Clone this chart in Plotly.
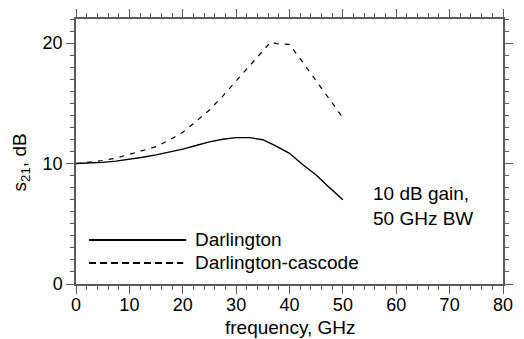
import plotly.graph_objects as go

freq = [0, 2.5, 5, 7.5, 10, 12.5, 15, 17.5, 20, 22.5, 25, 27.5, 30, 32.5, 35, 37.5, 40, 42.5, 45, 47.5, 50]
darlington = [10.0, 10.02, 10.1, 10.2, 10.33, 10.52, 10.72, 10.95, 11.2, 11.5, 11.8, 12.02, 12.15,
              12.15, 11.98, 11.45, 10.85, 9.9, 9.05, 8.0, 7.0]

freq_c = [0, 2.5, 5, 7.5, 10, 12.5, 15, 17.5, 20, 22.5, 25, 27.5, 30, 32.5, 35, 36.5, 37.5, 40,
          42.5, 45, 47.5, 50]
cascode = [10.0, 10.1, 10.25, 10.45, 10.75, 11.05, 11.4, 11.95, 12.6, 13.5, 14.45, 15.6, 16.85,
           18.05, 19.35, 20.1, 19.95, 19.9, 18.4, 16.85, 15.3, 13.8]

series_names = ["Darlington", "Darlington-cascode"]
note = "10 dB gain,<br>50 GHz BW"
x_title = "frequency, GHz"
y_title = "s<sub>21</sub>, dB"

FONT = "Liberation Sans, Arial, sans-serif"
FS = 19
FT = 18
AX = "#5a5a5a"

fig = go.Figure()
fig.add_trace(go.Scatter(x=freq, y=darlington, mode="lines", line=dict(color="black", width=1.4),
                         showlegend=False))
fig.add_trace(go.Scatter(x=freq_c, y=cascode, mode="lines",
                         line=dict(color="black", width=1.2, dash="5px,6px"), showlegend=False))

axis_common = dict(showgrid=False, zeroline=False, showline=True, linecolor=AX, linewidth=1.5,
                   mirror="ticks", ticks="outside", tickcolor=AX, tickwidth=1.2,
                   tickfont=dict(family=FONT, size=FT, color="black"))

fig.update_xaxes(range=[0, 80], dtick=10, tick0=0, ticklen=8, ticklabelstandoff=-4,
                 minor=dict(dtick=2, ticklen=4, ticks="outside", tickcolor=AX, tickwidth=1.2),
                 **axis_common)
fig.update_yaxes(range=[0, 22], dtick=10, tick0=0, ticklen=8,
                 minor=dict(dtick=1, ticklen=4, ticks="outside", tickcolor=AX, tickwidth=1.2),
                 **axis_common)

# legend drawn manually
fig.add_shape(type="line", xref="paper", yref="paper", x0=0.0305, x1=0.258, y0=0.1665, y1=0.1665,
              line=dict(color="black", width=2))
fig.add_shape(type="line", xref="paper", yref="paper", x0=0.0305, x1=0.251, y0=0.0795, y1=0.0795,
              line=dict(color="black", width=2, dash="7px,4px"))
fig.add_annotation(xref="paper", yref="paper", x=0.273, y=0.1665, text=series_names[0],
                   showarrow=False, xanchor="left", yanchor="middle",
                   font=dict(family=FONT, size=FS, color="black"))
fig.add_annotation(xref="paper", yref="paper", x=0.273, y=0.0795, text=series_names[1],
                   showarrow=False, xanchor="left", yanchor="middle",
                   font=dict(family=FONT, size=FS, color="black"))
fig.add_annotation(xref="paper", yref="paper", x=0.692, y=0.2945, text=note, align="left",
                   showarrow=False, xanchor="left", yanchor="middle",
                   font=dict(family=FONT, size=FS, color="black"))
# axis titles
fig.add_annotation(xref="paper", yref="paper", x=0.503, y=-0.166, text=x_title,
                   showarrow=False, xanchor="center", yanchor="middle",
                   font=dict(family=FONT, size=FS, color="black"))
fig.add_annotation(xref="paper", yref="paper", x=-0.128, y=0.46, text=y_title,
                   textangle=-90, showarrow=False, xanchor="center", yanchor="middle",
                   font=dict(family=FONT, size=FS, color="black"))

fig.update_layout(width=524, height=339, margin=dict(l=76, r=21, t=19, b=55, autoexpand=False),
                  plot_bgcolor="white", paper_bgcolor="white", showlegend=False)

fig.write_html("out.html", config={"displayModeBar": False},
               post_script="document.body.style.margin='0';document.body.style.padding='0';")
